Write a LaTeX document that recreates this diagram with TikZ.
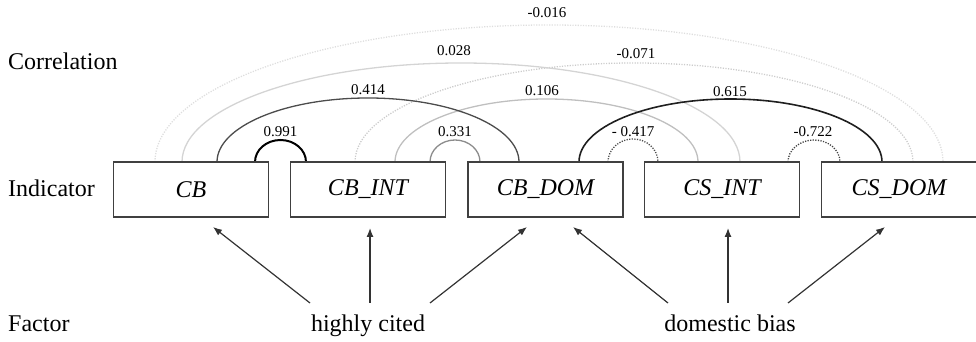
\documentclass[tikz,border=0pt]{standalone}
\usepackage{fontspec}
\setmainfont{Liberation Serif}
\usetikzlibrary{arrows.meta}

\tikzset{
  ind/.style={draw=black!75, line width=1.3pt, minimum width=155pt, minimum height=55pt,
              inner sep=0pt, font=\fontsize{24}{28}\selectfont\itshape},
  rowlabel/.style={anchor=base west, inner sep=0pt, font=\fontsize{24}{28}\selectfont},
  factor/.style={anchor=base, inner sep=0pt, font=\fontsize{24}{28}\selectfont},
  corr/.style={anchor=base, inner sep=0pt, font=\fontsize{15}{18}\selectfont},
  load/.style={draw=black!80, line width=1.2pt, -{Latex[length=9pt,width=7pt]}},
  dots/.style={dash pattern=on 1.2pt off 1.4pt},
  arcline/.style={line width=1.3pt},
}

\begin{document}
\begin{tikzpicture}[x=1pt,y=1pt]
\useasboundingbox (0,0) rectangle (976,342);

% row captions
\node[rowlabel] (rowC) at (8,272) {Correlation};
\node[rowlabel] (rowI) at (8,145) {Indicator};
\node[rowlabel] (rowF) at (8,10) {Factor};

% anchor points of the correlation arcs on the box tops
\coordinate (a016) at (155,180);
\coordinate (a028) at (182,180);
\coordinate (a414) at (217,180);
\coordinate (a991) at (255,180);
\coordinate (a071) at (355,180);
\coordinate (a106) at (395,180);
\coordinate (a331) at (430,180);
\coordinate (a615) at (579,180);
\coordinate (a417) at (608,180);
\coordinate (a722) at (788,180);

% faint, long-range correlations
\draw[arcline, black!13, dots] (a016) arc[start angle=180, end angle=0, x radius=394, y radius=137];
\draw[arcline, black!20, dots] (a071) arc[start angle=180, end angle=0, x radius=279, y radius=99];
\draw[arcline, black!17] (a028) arc[start angle=180, end angle=0, x radius=279, y radius=99];
\draw[arcline, black!25] (a106) arc[start angle=180, end angle=0, x radius=151.5, y radius=63];
\draw[arcline, black!45] (a331) arc[start angle=180, end angle=0, x radius=25, y radius=22];

% stronger correlations
\draw[arcline, black!70] (a414) arc[start angle=180, end angle=0, x radius=151, y radius=64];
\draw[line width=1.6pt, black!88] (a615) arc[start angle=180, end angle=0, x radius=151.5, y radius=63];
\draw[line width=2pt, black] (a991) arc[start angle=180, end angle=0, x radius=25.5, y radius=22];
\draw[arcline, black!70, dots] (a417) arc[start angle=180, end angle=0, x radius=25, y radius=23];
\draw[arcline, black!75, dots] (a722) arc[start angle=180, end angle=0, x radius=26, y radius=22];

% correlation values
\node[corr] (v016) at (547,324) {-0.016};
\node[corr] (v028) at (454,286) {0.028};
\node[corr] (v071) at (636,283) {-0.071};
\node[corr] (v414) at (368,247) {0.414};
\node[corr] (v106) at (542,246) {0.106};
\node[corr] (v615) at (730,245.5) {0.615};
\node[corr] (v991) at (280.5,205) {0.991};
\node[corr] (v331) at (455,205) {0.331};
\node[corr] (v417) at (633,205) {- 0.417};
\node[corr] (v722) at (813,205) {-0.722};

% indicators
\node[ind] (cb)    at (191,152.5)   {CB};
\node[ind] (cbint) at (368,152.5)   {CB\_INT};
\node[ind] (cbdom) at (545.5,152.5) {CB\_DOM};
\node[ind] (csint) at (722,152.5)   {CS\_INT};
\node[ind] (csdom) at (899,152.5)   {CS\_DOM};

% factors
\node[factor] (hc) at (368,10) {highly cited};
\node[factor] (db) at (730,10) {domestic bias};

% arrow tails above the factor names and tips below the boxes
\coordinate (hc1) at (310,39);
\coordinate (hc2) at (370,39);
\coordinate (hc3) at (430,39);
\coordinate (db1) at (668,39);
\coordinate (db2) at (728,39);
\coordinate (db3) at (788,39);
\coordinate (t1) at (213,115);
\coordinate (t2) at (370,114);
\coordinate (t3) at (527,115);
\coordinate (t4) at (573,115);
\coordinate (t5) at (728,114);
\coordinate (t6) at (885,115);

\draw[load] (hc1) -- (t1);
\draw[load] (hc2) -- (t2);
\draw[load] (hc3) -- (t3);
\draw[load] (db1) -- (t4);
\draw[load] (db2) -- (t5);
\draw[load] (db3) -- (t6);
\end{tikzpicture}
\end{document}
